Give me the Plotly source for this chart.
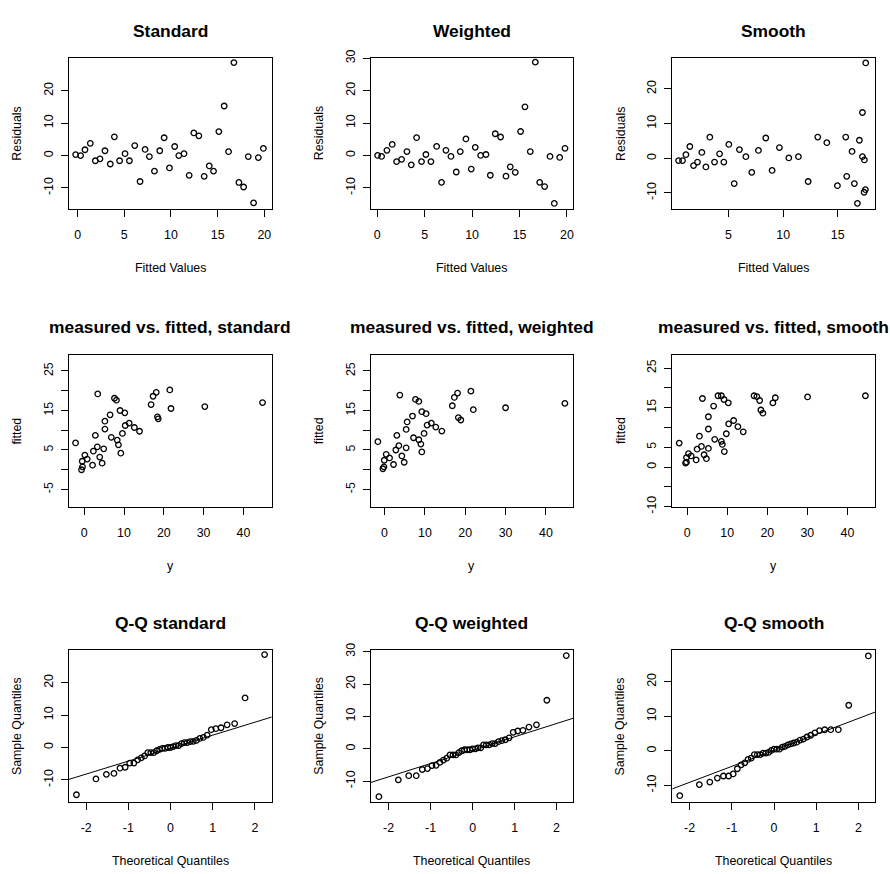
import numpy as np
import plotly.graph_objects as go
from statistics import NormalDist

# ---------------- data ----------------
# Row 1: residuals vs fitted values
fitted_std = [-0.21, 0.32, 0.79, 1.36, 1.9, 2.4, 2.93, 3.5, 3.94, 4.5, 5.08, 5.55, 6.12, 6.69, 7.23, 7.69,
              8.23, 8.8, 9.27, 9.84, 10.4, 10.84, 11.4, 11.95, 12.45, 12.99, 13.56, 14.1, 14.56, 15.13,
              15.7, 16.17, 16.74, 17.28, 17.78, 18.28, 18.85, 19.36, 19.9]
resid_std = [0.3, 0.0, 1.8, 3.8, -1.6, -1.0, 1.5, -2.6, 5.8, -1.6, 0.6, -1.6, 3.1, -8.0, 1.9, -0.3,
             -4.8, 1.5, 5.5, -3.8, 2.8, 0.0, 0.6, -6.1, 7.0, 6.1, -6.4, -3.2, -4.8, 7.4,
             15.3, 1.2, 28.7, -8.3, -9.7, -0.3, -14.6, -0.6, 2.2]

fitted_wt = [0.04, 0.46, 1.02, 1.58, 2.04, 2.57, 3.13, 3.59, 4.15, 4.67, 5.13, 5.66, 6.26, 6.78, 7.24, 7.77,
             8.33, 8.75, 9.35, 9.91, 10.33, 10.9, 11.46, 11.92, 12.44, 13.0, 13.57, 14.02, 14.55, 15.11,
             15.57, 16.13, 16.66, 17.12, 17.64, 18.21, 18.66, 19.23, 19.79]
resid_wt = [0.0, -0.3, 1.6, 3.4, -1.9, -1.2, 1.2, -2.9, 5.5, -1.9, 0.3, -1.9, 2.8, -8.3, 1.6, -0.3,
            -5.1, 1.2, 5.1, -4.2, 2.5, 0.0, 0.3, -6.1, 6.7, 5.7, -6.4, -3.5, -5.2, 7.4,
            15.0, 1.2, 28.8, -8.3, -9.6, -0.3, -14.8, -0.6, 2.2]

fitted_sm = [0.43, 0.79, 1.1, 1.46, 1.8, 2.16, 2.56, 2.93, 3.29, 3.72, 4.18, 4.57, 5.03, 5.52, 6.0, 6.59,
             7.13, 7.74, 8.41, 8.99, 9.66, 10.52, 11.4, 12.29, 13.17, 14.0, 14.97, 15.73, 15.82, 16.31,
             16.52, 16.8, 16.98, 17.26, 17.26, 17.41, 17.44, 17.53, 17.56]
resid_sm = [-0.66, -0.66, 1.04, 3.4, -2.1, -1.1, 1.7, -2.5, 6.1, -1.1, 1.3, -1.1, 4.0, -7.3, 2.5, 0.47,
            -4.06, 2.26, 5.85, -3.5, 3.1, 0.1, 0.47, -6.7, 6.13, 4.5, -7.9, 6.13, -5.2, 1.98,
            -7.3, -13.0, 5.2, 13.2, 0.47, -9.8, -0.47, -9.06, 27.5]

# Row 2: measured y vs fitted
meas_std = [-2.17, -0.67, -0.42, -0.5, 0.17, 0.75, 2.1, 2.3, 2.8, 3.3, 3.4, 3.9, 4.5, 4.9, 5.2, 5.2, 6.5,
            6.8, 7.6, 8.1, 8.3, 8.6, 9.0, 9.2, 9.6, 10.2, 10.3, 11.3, 12.6, 13.9, 16.8, 17.3, 18.1, 18.4,
            18.6, 21.5, 21.8, 30.3, 44.8]
fit2_std = [6.78, 0.0, 0.74, 2.15, 3.7, 2.7, 1.16, 4.7, 8.7, 5.8, 19.2, 3.2, 1.66, 5.3, 10.3, 12.3, 13.9,
            8.2, 18.1, 17.6, 7.5, 6.3, 15.0, 4.2, 9.2, 14.4, 11.2, 11.8, 10.7, 9.75, 16.5, 18.6, 19.6, 13.4,
            12.9, 20.2, 15.5, 16.0, 17.0]

meas_wt = [-1.65, -0.41, -0.16, -0.08, 0.41, 1.24, 2.23, 2.8, 3.05, 3.55, 3.79, 4.29, 4.87, 5.36, 5.36, 5.6,
           6.93, 7.18, 7.67, 8.5, 8.5, 9.0, 9.24, 9.24, 9.8, 10.3, 10.56, 11.6, 12.7, 14.2, 16.8, 17.3, 18.1,
           18.3, 18.9, 21.4, 22.0, 30.0, 44.7]
fit2_wt = [7.1, 0.25, 0.75, 2.4, 3.9, 3.0, 1.33, 5.0, 8.7, 6.1, 18.9, 3.5, 1.9, 5.55, 10.2, 12.1,
           13.6, 8.1, 17.8, 17.3, 7.6, 6.5, 14.7, 4.5, 9.2, 14.2, 11.3, 11.8, 10.8, 9.8, 16.2, 18.3, 19.4,
           13.2, 12.6, 19.9, 15.2, 15.7, 16.8]

meas_sm = [-1.99, -0.41, -0.17, -0.17, 0.33, 0.99, 2.24, 2.48, 3.06, 3.56, 3.81, 4.22, 4.8, 5.3, 5.3, 5.3,
           6.6, 6.87, 7.7, 8.53, 8.53, 8.78, 9.19, 9.28, 9.77, 10.27, 10.35, 11.6, 12.67, 14.0, 16.7, 17.4,
           18.1, 18.4, 18.9, 21.4, 22.0, 30.06, 44.5]
fit2_sm = [6.04, 0.99, 1.24, 2.4, 3.4, 2.8, 1.8, 4.5, 7.8, 5.2, 17.3, 3.1, 2.1, 4.7, 9.6, 12.7,
           15.4, 7.0, 18.0, 18.0, 6.5, 5.7, 17.05, 3.9, 8.4, 16.2, 10.9, 11.75, 10.2, 8.9, 18.0, 17.8,
           16.8, 14.4, 13.6, 16.2, 17.5, 17.7, 18.0]

titles = ["Standard", "Weighted", "Smooth",
          "measured vs. fitted, standard", "measured vs. fitted, weighted", "measured vs. fitted, smooth",
          "Q-Q standard", "Q-Q weighted", "Q-Q smooth"]
xtitles = ["Fitted Values"] * 3 + ["y"] * 3 + ["Theoretical Quantiles"] * 3
ytitles = ["Residuals"] * 3 + ["fitted"] * 3 + ["Sample Quantiles"] * 3

# tick values / labels (R drops overlapping labels)
xticks = [[0, 5, 10, 15, 20], [0, 5, 10, 15, 20], [5, 10, 15],
          [0, 10, 20, 30, 40], [0, 10, 20, 30, 40], [0, 10, 20, 30, 40],
          [-2, -1, 0, 1, 2], [-2, -1, 0, 1, 2], [-2, -1, 0, 1, 2]]
yticks = [[-10, 0, 10, 20], [-10, 0, 10, 20, 30], [-10, 0, 10, 20],
          [-5, 0, 5, 10, 15, 20, 25], [-5, 0, 5, 10, 15, 20, 25], [-10, -5, 0, 5, 10, 15, 20, 25],
          [-10, 0, 10, 20], [-10, 0, 10, 20, 30], [-10, 0, 10, 20]]
ylabels = [["-10", "0", "10", "20"], ["-10", "0", "10", "20", "30"], ["-10", "0", "10", "20"],
           ["-5", "", "5", "", "15", "", "25"], ["-5", "", "5", "", "15", "", "25"],
           ["-10", "", "0", "5", "", "15", "", "25"],
           ["-10", "0", "10", "20"], ["-10", "0", "10", "20", "30"], ["-10", "0", "10", "20"]]

xranges = [[-0.93, 20.79], [-0.70, 20.67], [-0.15, 18.41],
           [-3.84, 47.1], [-3.46, 46.8], [-3.73, 46.9],
           [-2.41, 2.40], [-2.43, 2.40], [-2.41, 2.39]]
yranges = [[-16.57, 30.1], [-16.6, 30.05], [-14.7, 28.9],
           [-9.36, 29.16], [-9.36, 29.16], [-10.02, 28.4],
           [-16.9, 30.1], [-16.5, 30.5], [-14.9, 29.2]]

# ---------------- layout geometry (pixels) ----------------
W, H = 890, 874
col_box = [(69, 272), (371, 574), (673, 876)]
row_box = [(50, 204), (352, 507), (653, 808)]

def px(x):
    return x / W

def py(y):
    return 1 - y / H

FONT = "Liberation Sans, Arial, Helvetica, sans-serif"
fig = go.Figure()

marker = dict(symbol="circle-open", size=5.5, color="black", line=dict(width=1.3, color="black"))

resid_sets = [(fitted_std, resid_std), (fitted_wt, resid_wt), (fitted_sm, resid_sm)]
scatter_sets = [(meas_std, fit2_std), (meas_wt, fit2_wt), (meas_sm, fit2_sm)]

annotations = []
layout = {}
nd = NormalDist()

for i in range(9):
    r, c = divmod(i, 3)
    k = i + 1
    xname = "x" if k == 1 else f"x{k}"
    yname = "y" if k == 1 else f"y{k}"
    xl, xr = col_box[c]
    yt, yb = row_box[r]

    if r == 0:
        xs, ys = resid_sets[c]
        fig.add_trace(go.Scatter(x=xs, y=ys, mode="markers", marker=marker,
                                 xaxis=xname, yaxis=yname, showlegend=False))
    elif r == 1:
        xs, ys = scatter_sets[c]
        fig.add_trace(go.Scatter(x=xs, y=ys, mode="markers", marker=marker,
                                 xaxis=xname, yaxis=yname, showlegend=False))
    else:
        res = np.array(resid_sets[c][1])
        n = len(res)
        samp = np.sort(res)
        theo = np.array([nd.inv_cdf((j + 0.5) / n) for j in range(n)])
        fig.add_trace(go.Scatter(x=theo, y=samp, mode="markers", marker=marker,
                                 xaxis=xname, yaxis=yname, showlegend=False))
        q1, q3 = np.quantile(res, [0.25, 0.75])
        z1, z3 = nd.inv_cdf(0.25), nd.inv_cdf(0.75)
        slope = (q3 - q1) / (z3 - z1)
        icpt = q1 - slope * z1
        lx = np.array(xranges[i])
        fig.add_trace(go.Scatter(x=lx, y=icpt + slope * lx, mode="lines",
                                 line=dict(color="black", width=1),
                                 xaxis=xname, yaxis=yname, showlegend=False))

    common = dict(showline=True, mirror=True, linecolor="black", linewidth=1,
                  ticks="outside", ticklen=7, tickwidth=1, tickcolor="black",
                  showgrid=False, zeroline=False, fixedrange=True,
                  tickfont=dict(family=FONT, size=12.4, color="black"))
    layout["xaxis" if k == 1 else f"xaxis{k}"] = dict(
        common, domain=[px(xl), px(xr)], range=xranges[i], anchor=yname,
        tickmode="array", tickvals=xticks[i], ticktext=[str(v) for v in xticks[i]],
        ticklabelstandoff=7)
    layout["yaxis" if k == 1 else f"yaxis{k}"] = dict(
        common, domain=[py(yb), py(yt)], range=yranges[i], anchor=xname,
        tickmode="array", tickvals=yticks[i], ticktext=ylabels[i], tickangle=-90,
        ticklabelstandoff=3)

    cx = (xl + xr) / 2
    annotations.append(dict(text=f"<b>{titles[i]}</b>", x=px(cx), y=py(yt - 28),
                            xref="paper", yref="paper", showarrow=False,
                            xanchor="center", yanchor="middle",
                            font=dict(family=FONT, size=17.4, color="black")))
    annotations.append(dict(text=xtitles[i], x=px(cx), y=py(yb + 60),
                            xref="paper", yref="paper", showarrow=False,
                            xanchor="center", yanchor="middle",
                            font=dict(family=FONT, size=12.4, color="black")))
    annotations.append(dict(text=ytitles[i], x=px(xl - 52), y=py((yt + yb) / 2),
                            xref="paper", yref="paper", showarrow=False, textangle=-90,
                            xanchor="center", yanchor="middle",
                            font=dict(family=FONT, size=12.4, color="black")))

fig.update_layout(width=W, height=H, margin=dict(l=0, r=0, t=0, b=0),
                  paper_bgcolor="white", plot_bgcolor="white",
                  annotations=annotations, **layout)

fig.write_html("out.html")
